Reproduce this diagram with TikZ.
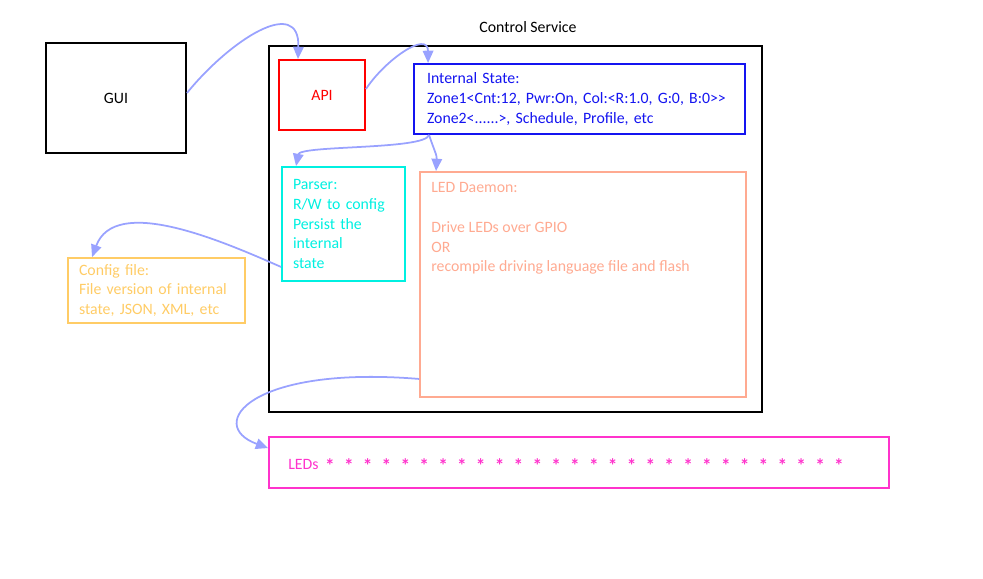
\documentclass[tikz,border=0pt]{standalone}
\usepackage{fontspec}
\setmainfont{Carlito}
\usetikzlibrary{arrows.meta}

\definecolor{stateblue}{RGB}{20,20,240}
\definecolor{parsercyan}{RGB}{0,240,225}
\definecolor{daemonsalmon}{RGB}{255,170,145}
\definecolor{configyellow}{RGB}{255,204,102}
\definecolor{ledpink}{RGB}{255,51,204}
\definecolor{flowblue}{RGB}{153,162,255}

\begin{document}
\begin{tikzpicture}[x=0.02cm,y=-0.02cm,font=\fontsize{9}{11.3}\selectfont,
box/.style={draw=#1,line width=1.1pt,text=#1,inner sep=0pt},
flow/.style={-{Triangle[length=7pt,width=6pt]},draw=flowblue,line width=1pt}]

\useasboundingbox (0,0) rectangle (983,578);

\node[box=black,minimum width=2.8cm,minimum height=2.2cm](gui) at (116,98){GUI};
\node[box=black,minimum width=9.86cm,minimum height=7.32cm](ctrl) at (515.5,229){};
\node(ctrltitle) at (528,27){Control Service};
\node[box=red,minimum width=1.72cm,minimum height=1.4cm](api) at (322,95){API};
\node[box=stateblue,text width=6.1cm,inner xsep=0.26cm,minimum height=1.4cm,align=left](state) at (579.5,99)
  {Internal State:\\Zone1<Cnt:12, Pwr:On, Col:<R:1.0, G:0, B:0>{}>\\Zone2<......>, Schedule, Profile, etc};
\node[box=parsercyan,text width=2.02cm,inner xsep=0.22cm,minimum height=2.28cm,align=left](parser) at (343.5,224)
  {Parser:\\R/W to config\\Persist the\\internal\\state};
\node[box=daemonsalmon,minimum width=6.52cm,minimum height=4.5cm](daemon) at (583,284.5){};
\node[anchor=north west,align=left,text=daemonsalmon,inner sep=0pt](daemontext) at (431,182)
  {LED Daemon:\\[11.3pt]Drive LEDs over GPIO\\OR\\recompile driving language file and flash};
\node[box=configyellow,text width=3.1cm,inner xsep=0.22cm,minimum height=1.3cm,align=left](config) at (156.5,290.5)
  {Config file:\\File version of internal\\state, JSON, XML, etc};
\node[box=ledpink,minimum width=12.4cm,minimum height=1.02cm](leds) at (579,462.5){};
\node[anchor=west,text=ledpink,inner sep=0pt](ledslabel) at (288,464){LEDs};
\foreach \i in {0,...,27}
  \node[text=ledpink,inner sep=0pt,font=\fontsize{11}{11}\bfseries](star\i) at (330+18.85*\i,466){*};

\draw[flow]([yshift=0.1cm]gui.east) .. controls (230,40) and (300,-5) .. ([xshift=-0.48cm]api.north);
\draw[flow]([yshift=0.12cm]api.east) .. controls (385,60) and (428,30) .. ([xshift=0.3cm]state.north west);
\draw[flow]([xshift=0.32cm]state.south west) .. controls (425,150) and (300,145) .. ([xshift=0.3cm]parser.north west);
\draw[flow]([xshift=0.32cm]state.south west) .. controls (434,150) and (437,155) .. ([xshift=0.34cm]daemon.north west);
\draw[flow]([yshift=0.3cm]parser.south west) .. controls (220,240) and (115,195) .. ([xshift=0.5cm]config.north west);
\draw[flow]([yshift=0.38cm]daemon.south west) .. controls (250,365) and (205,425) .. ([yshift=-0.24cm]leds.north west);

\end{tikzpicture}
\end{document}
